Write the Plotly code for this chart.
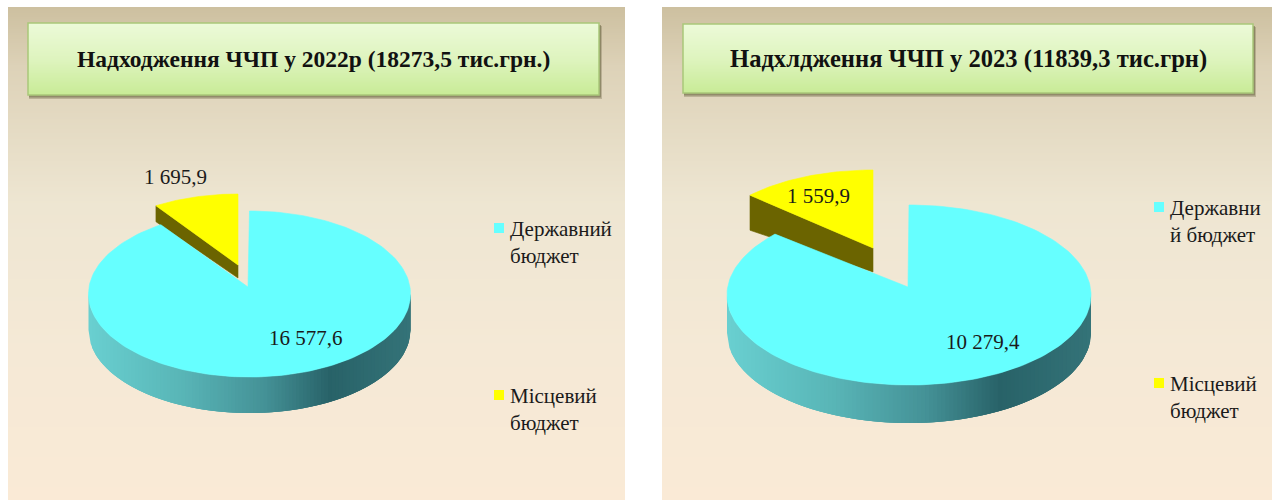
import math
import plotly.graph_objects as go

categories = ["Державний<br>бюджет", "Місцевий<br>бюджет"]
categories_right = ["Державни<br>й бюджет", "Місцевий<br>бюджет"]
state_budget = [16577.6, 10279.4]
local_budget = [1695.9, 1559.9]
titles = ["Надходження ЧЧП у 2022р (18273,5 тис.грн.)",
          "Надхлдження ЧЧП у 2023 (11839,3 тис.грн)"]

CYAN = "#66FFFF"
YELLOW = "#FFFF00"
OLIVE = "#6B6400"
FONT = "Liberation Serif"


def lerp_stops(stops, t):
    for (a, ca), (b, cb) in zip(stops, stops[1:]):
        if t <= b:
            f = (t - a) / (b - a) if b > a else 0
            return tuple(ca[i] + (cb[i] - ca[i]) * f for i in range(3))
    return stops[-1][1]


def rgb(c):
    return "rgb(%d,%d,%d)" % tuple(round(v) for v in c)


BG_STOPS = [(0, (205, 192, 160)), (0.12, (221, 210, 184)), (0.4, (238, 230, 210)),
            (0.7, (245, 233, 214)), (1, (250, 234, 214))]
BOX_STOPS = [(0, (236, 250, 216)), (0.5, (222, 244, 190)), (1, (200, 235, 150))]
WALL_STOPS = [(0, (105, 208, 208)), (0.3, (88, 180, 182)), (0.55, (68, 145, 150)),
              (0.75, (40, 98, 104)), (1, (52, 115, 120))]

panels = [dict(x0=8, x1=625, y0=7, y1=500), dict(x0=662, x1=1272, y0=7, y1=500)]
boxes = [dict(x0=28, x1=599, y0=23, y1=95), dict(x0=683, x1=1253, y0=24, y1=93)]
title_sizes = [23.5, 24.6]
pies = [
    dict(cx=249.5, cy=294, rx=161, ry=83, depth=36, ax=248, ay=287,
         ycx=238, ycy=265, yrx=149, yry=71, yd_corner=16, yd_apex=13),
    dict(cx=909, cy=295, rx=182, ry=90, depth=38, ax=908, ay=287,
         ycx=873, ycy=248, yrx=167, yry=78, yd_corner=35, yd_apex=24),
]
label_pos = [[(306, 338), (175, 177)], [(983, 342), (818, 196)]]
legend_pos = [[(499, 228), (499, 395)], [(1159, 207), (1159, 383)]]

fig = go.Figure()
shapes = []
annotations = []

for p in panels:
    n = int(p["y1"] - p["y0"])
    for i in range(0, n, 2):
        col = rgb(lerp_stops(BG_STOPS, i / n))
        shapes.append(dict(type="rect", layer="below", x0=p["x0"], x1=p["x1"],
                           y0=p["y0"] + i, y1=min(p["y0"] + i + 2.5, p["y1"]),
                           fillcolor=col, line=dict(width=0)))

for b in boxes:
    shapes.append(dict(type="rect", layer="below", x0=b["x0"] + 1, x1=b["x1"] + 3,
                       y0=b["y0"] + 3, y1=b["y1"] + 4,
                       fillcolor="rgba(120,112,80,0.35)", line=dict(width=0)))
    shapes.append(dict(type="rect", layer="below", x0=b["x0"] + 1, x1=b["x1"] + 2,
                       y0=b["y0"] + 2, y1=b["y1"] + 2.5,
                       fillcolor="rgba(110,105,70,0.55)", line=dict(width=0)))
    n = int(b["y1"] - b["y0"])
    for i in range(n):
        shapes.append(dict(type="rect", layer="below", x0=b["x0"], x1=b["x1"],
                           y0=b["y0"] + i, y1=min(b["y0"] + i + 1.5, b["y1"]),
                           fillcolor=rgb(lerp_stops(BOX_STOPS, i / n)), line=dict(width=0)))
    shapes.append(dict(type="rect", layer="below", x0=b["x0"], x1=b["x1"], y0=b["y0"], y1=b["y1"],
                       fillcolor="rgba(0,0,0,0)", line=dict(width=1.5, color="#A9C77A")))


def poly(xs, ys, color, lw=0.6):
    fig.add_trace(go.Scatter(x=xs, y=ys, mode="lines", fill="toself", fillcolor=color,
                             line=dict(color=color, width=lw), hoverinfo="skip", showlegend=False))


for k, g in enumerate(pies):
    total = state_budget[k] + local_budget[k]
    sweep_local = 2 * math.pi * local_budget[k] / total

    # exploded slice: wall, then top
    cornerx = g["ycx"] - g["yrx"] * math.sin(sweep_local)
    cornery = g["ycy"] - g["yry"] * math.cos(sweep_local)
    poly([cornerx, g["ycx"], g["ycx"], cornerx, cornerx],
         [cornery, g["ycy"], g["ycy"] + g["yd_apex"], cornery + g["yd_corner"], cornery], OLIVE)
    xs, ys = [g["ycx"]], [g["ycy"]]
    for i in range(41):
        t = -sweep_local * (1 - i / 40)
        xs.append(g["ycx"] + g["yrx"] * math.sin(t))
        ys.append(g["ycy"] - g["yry"] * math.cos(t))
    xs.append(g["ycx"]); ys.append(g["ycy"])
    poly(xs, ys, YELLOW)

    # main slice wall: overlapping vertical strips, shaded left to right
    strips = 90
    for i in range(strips):
        u0 = -1 + 2 * i / strips
        xs, ys_top = [], []
        for j in range(6):
            u = min(1.0, u0 + (2 * 3 / strips) * j / 5)
            xs.append(g["cx"] + g["rx"] * u)
            ys_top.append(g["cy"] + g["ry"] * math.sqrt(max(0, 1 - u * u)))
        px = xs + xs[::-1] + [xs[0]]
        py = ys_top + [y + g["depth"] for y in ys_top[::-1]] + [ys_top[0]]
        poly(px, py, rgb(lerp_stops(WALL_STOPS, (i + 0.5) / strips)), lw=0)

    # main slice top
    xs, ys = [g["ax"]], [g["ay"]]
    sweep_state = 2 * math.pi * state_budget[k] / total
    for i in range(181):
        t = sweep_state * i / 180
        xs.append(g["cx"] + g["rx"] * math.sin(t))
        ys.append(g["cy"] - g["ry"] * math.cos(t))
    xs.append(g["ax"]); ys.append(g["ay"])
    poly(xs, ys, CYAN)

    # data labels
    vals = [state_budget[k], local_budget[k]]
    for v, (lx, ly) in zip(vals, label_pos[k]):
        txt = f"{v:,.1f}".replace(",", " ").replace(".", ",")
        annotations.append(dict(x=lx, y=ly, text=txt, showarrow=False, xanchor="center", yanchor="middle",
                                font=dict(family=FONT, size=21, color="#1A1A1A")))

    # legend
    cats = categories if k == 0 else categories_right
    for cat, color, (mx, my) in zip(cats, [CYAN, YELLOW], legend_pos[k]):
        fig.add_trace(go.Scatter(x=[mx], y=[my], mode="markers", hoverinfo="skip", showlegend=False,
                                 marker=dict(symbol="square", size=10, color=color, line=dict(width=0))))
        annotations.append(dict(x=mx + 9, y=my - 13, text=cat, showarrow=False, xanchor="left", yanchor="top",
                                align="left", font=dict(family=FONT, size=21, color="#1A1A1A")))

    b = boxes[k]
    annotations.append(dict(x=(b["x0"] + b["x1"]) / 2, y=(b["y0"] + b["y1"]) / 2 + 0, text="<b>%s</b>" % titles[k],
                            showarrow=False, xanchor="center", yanchor="middle",
                            font=dict(family=FONT, size=title_sizes[k], color="#111111")))

fig.update_layout(
    width=1279, height=500, margin=dict(l=0, r=0, t=0, b=0), paper_bgcolor="white", plot_bgcolor="rgba(0,0,0,0)",
    xaxis=dict(range=[0, 1279], visible=False, fixedrange=True),
    yaxis=dict(range=[500, 0], visible=False, fixedrange=True),
    shapes=shapes, annotations=annotations,
)
fig.write_html("out.html", config={"displayModeBar": False},
               post_script="document.body.style.margin='0';")
